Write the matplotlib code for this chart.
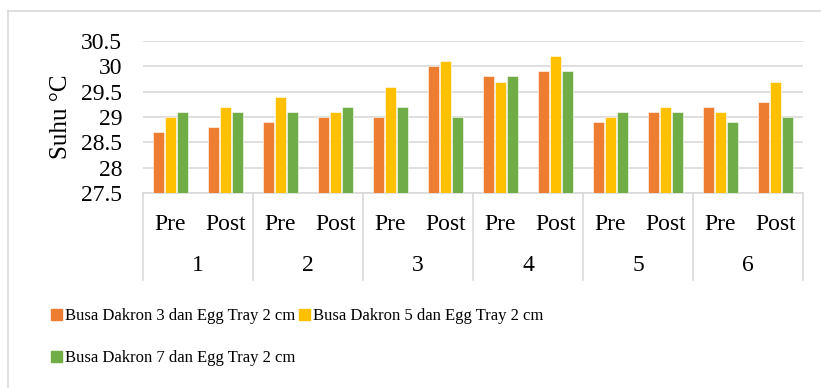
import matplotlib.pyplot as plt
from matplotlib.lines import Line2D
import numpy as np

plt.rcParams['font.family'] = ['Liberation Serif', 'DejaVu Serif']

days = ['1', '2', '3', '4', '5', '6']
phases = ['Pre', 'Post']
series_names = ['Busa Dakron 3 dan Egg Tray 2 cm',
                'Busa Dakron 5 dan Egg Tray 2 cm',
                'Busa Dakron 7 dan Egg Tray 2 cm']
# values per slot: day1 Pre, day1 Post, day2 Pre, ...
dakron3 = [28.7, 28.8, 28.9, 29.0, 29.0, 30.0, 29.8, 29.9, 28.9, 29.1, 29.2, 29.3]
dakron5 = [29.0, 29.2, 29.4, 29.1, 29.6, 30.1, 29.7, 30.2, 29.0, 29.2, 29.1, 29.7]
dakron7 = [29.1, 29.1, 29.1, 29.2, 29.2, 29.0, 29.8, 29.9, 29.1, 29.1, 28.9, 29.0]
colors = ['#ED7D31', '#FFC000', '#70AD47']

W, H = 821, 388
fig = plt.figure(figsize=(W / 100, H / 100), dpi=100)
ax = fig.add_axes([143 / W, 1 - 193 / H, 660 / W, 152 / H])

x = np.arange(len(dakron3))
bw = 0.19
step = 0.215
for i, (vals, c) in enumerate(zip([dakron3, dakron5, dakron7], colors)):
    ax.bar(x + (i - 1) * step, np.array(vals) - 27.5, bw, bottom=27.5,
           color=c, edgecolor='white', linewidth=0.4, zorder=3)

ax.set_xlim(-0.5, len(x) - 0.5)
ax.set_ylim(27.5, 30.5)
ax.set_yticks(np.arange(27.5, 30.51, 0.5))
ax.set_yticklabels(['27.5', '28', '28.5', '29', '29.5', '30', '30.5'])
ax.yaxis.grid(True, color='#D9D9D9', linewidth=1.2, zorder=0)
ax.tick_params(axis='y', length=0, pad=15, labelsize=17)
for s in ['top', 'right', 'left']:
    ax.spines[s].set_visible(False)
ax.spines['bottom'].set_color('#D9D9D9')
ax.spines['bottom'].set_linewidth(1.2)

ax.set_xticks(x)
ax.set_xticklabels([phases[k % 2] for k in x], fontsize=17)
ax.tick_params(axis='x', length=0, pad=15)

trans = ax.get_xaxis_transform()
for d, name in enumerate(days):
    ax.text(2 * d + 0.5, -0.475, name, transform=trans, ha='center', va='center', fontsize=17)
for d in range(len(days) + 1):
    ax.add_line(Line2D([2 * d - 0.5, 2 * d - 0.5], [0, -0.57], transform=trans,
                       color='#D9D9D9', linewidth=1.2, clip_on=False))

ax.set_ylabel('Suhu °C', fontsize=18)
ax.yaxis.set_label_coords(-0.108, 0.5)

# outer chart border
fig.add_artist(Line2D([8 / W, 1], [1 - 11 / H, 1 - 11 / H], transform=fig.transFigure,
                      color='#D9D9D9', linewidth=1.2))
fig.add_artist(Line2D([8 / W, 8 / W], [0, 1 - 11 / H], transform=fig.transFigure,
                      color='#D9D9D9', linewidth=1.2))

handles = [plt.Rectangle((0, 0), 1, 1, color=c) for c in colors]
order = [0, 2, 1]
fig.legend([handles[k] for k in order], [series_names[k] for k in order],
           ncol=2, loc='upper left', bbox_to_anchor=(43 / W, 1 - 300 / H),
           frameon=False, fontsize=12, handlelength=0.65, handleheight=0.65,
           handletextpad=0.15, columnspacing=0.25, labelspacing=1.55, borderpad=0)

fig.savefig('out.png', dpi=100)
